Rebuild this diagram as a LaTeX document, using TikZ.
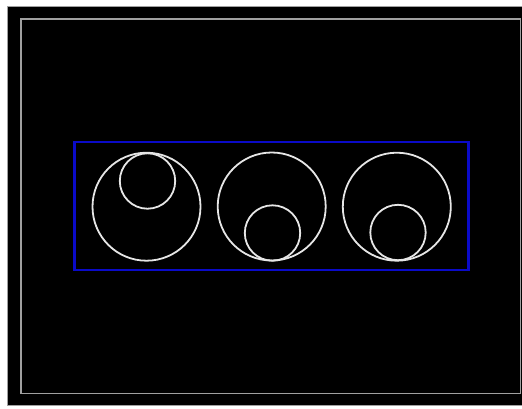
\documentclass[tikz,border=0pt]{standalone}
\definecolor{frameGrey}{RGB}{160,160,160}
\definecolor{boxBlue}{RGB}{10,10,200}
\definecolor{ringWhite}{RGB}{230,230,230}
\definecolor{pageWhite}{RGB}{255,255,255}
\tikzset{
  greyframe/.style={draw=frameGrey, line width=1.3pt},
  bluebox/.style={draw=boxBlue, line width=2.2pt},
  ring/.style={draw=ringWhite, line width=1.8pt},
}
\begin{document}
\begin{tikzpicture}[x=1pt,y=-1pt]
\fill[pageWhite] (0,0) rectangle (522,408);
\useasboundingbox (0,0) rectangle (522,408);
\begin{scope}
\clip (0,0) rectangle (522,408);
\filldraw[fill=black, greyframe] (7.5,6.5) rectangle (540,405.5);
\end{scope}
\draw[greyframe] (21,19) rectangle (520.5,393.5);
\draw[bluebox] (74.5,142) rectangle (468.5,270);
% first
\draw[ring] (146.5,206.7) circle (54);
\draw[ring] (147.5,181) circle (27.7);
% second
\draw[ring] (271.7,206.5) circle (54);
\draw[ring] (272.5,233) circle (27.7);
% third
\draw[ring] (396.8,206.7) circle (54);
\draw[ring] (398,232.5) circle (27.7);
\end{tikzpicture}
\end{document}
